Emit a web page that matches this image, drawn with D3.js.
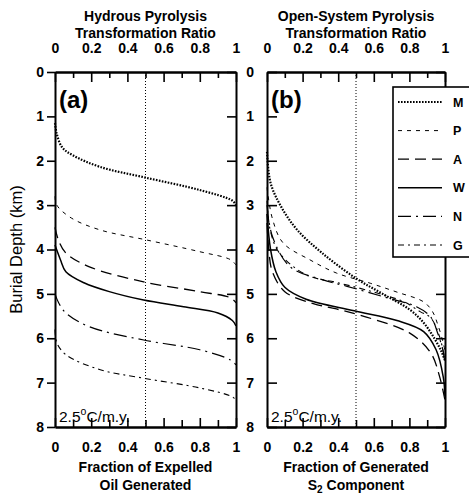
<!DOCTYPE html>
<html>
<head>
<meta charset="utf-8">
<script src="https://cdn.jsdelivr.net/npm/d3@7/dist/d3.min.js"></script>
<style>
  body { margin: 0; background: #fff; }
  svg { display: block; font-family: Arial, "Liberation Sans", sans-serif; }
</style>
</head>
<body>
<svg id="chart" width="469" height="496"></svg>
<script>
// ---- data: [fraction, depth km] ----
const seriesNames = ["M", "P", "A", "W", "N", "G"];
const fractionTicks = [0, 0.2, 0.4, 0.6, 0.8, 1];
const fractionMinor = [0.1, 0.3, 0.5, 0.7, 0.9];
const depthTicks = [0, 1, 2, 3, 4, 5, 6, 7, 8];

// (a) hydrous pyrolysis
const hydrousM = [[0, 1.15], [0.01, 1.4], [0.04, 1.7], [0.1, 1.88], [0.25, 2.14], [0.5, 2.38], [0.8, 2.66], [0.98, 2.9], [1, 3.0]];
const hydrousP = [[0, 2.8], [0.01, 3.0], [0.09, 3.29], [0.25, 3.56], [0.5, 3.78], [0.8, 4.05], [0.97, 4.23], [1, 4.35]];
const hydrousA = [[0, 3.5], [0.02, 3.8], [0.06, 4.08], [0.19, 4.39], [0.49, 4.73], [0.8, 4.95], [0.97, 5.09], [1, 5.2]];
const hydrousW = [[0, 3.9], [0.03, 4.23], [0.06, 4.5], [0.16, 4.75], [0.3, 4.95], [0.49, 5.14], [0.71, 5.29], [0.9, 5.43], [0.98, 5.6], [1, 5.72]];
const hydrousN = [[0, 5.0], [0.02, 5.2], [0.06, 5.43], [0.19, 5.74], [0.49, 6.04], [0.8, 6.26], [0.97, 6.49], [1, 6.6]];
const hydrousG = [[0, 5.8], [0.01, 6.1], [0.06, 6.37], [0.25, 6.71], [0.49, 6.9], [0.8, 7.12], [0.98, 7.32], [1, 7.4]];

// (b) open-system pyrolysis
const openM = [[0, 1.8], [0.02, 2.5], [0.08, 3.04], [0.17, 3.56], [0.31, 4.08], [0.5, 4.65], [0.65, 5.0], [0.8, 5.35], [0.88, 5.65], [0.94, 6.0], [0.98, 6.3], [1, 6.5]];
const openP = [[0, 2.6], [0.03, 3.3], [0.09, 3.85], [0.24, 4.23], [0.39, 4.53], [0.58, 4.76], [0.73, 4.96], [0.88, 5.18], [0.93, 5.4], [0.96, 5.7], [0.99, 6.1], [1, 6.3]];
const openA = [[0, 3.4], [0.01, 4.0], [0.03, 4.5], [0.1, 4.95], [0.26, 5.22], [0.39, 5.34], [0.54, 5.5], [0.8, 5.88], [0.92, 6.33], [0.97, 6.87], [1, 7.4]];
const openW = [[0, 3.2], [0.02, 4.0], [0.05, 4.5], [0.1, 4.85], [0.22, 5.12], [0.49, 5.38], [0.73, 5.6], [0.88, 5.85], [0.95, 6.26], [0.99, 6.87], [1, 7.3]];
const openN = [[0, 3.0], [0.03, 3.7], [0.13, 4.39], [0.31, 4.68], [0.45, 4.83], [0.65, 5.06], [0.84, 5.29], [0.92, 5.52], [0.96, 5.9], [0.99, 6.3], [1, 6.6]];
const openG = [[0, 2.9], [0.02, 3.6], [0.07, 4.08], [0.22, 4.57], [0.41, 4.76], [0.6, 4.96], [0.77, 5.18], [0.86, 5.4], [0.92, 5.54], [0.97, 5.97], [1, 6.5]];

const hydrousSeries = [hydrousM, hydrousP, hydrousA, hydrousW, hydrousN, hydrousG];
const openSeries = [openM, openP, openA, openW, openN, openG];

// line styles per series (M, P, A, W, N, G)
const styles = {
    M: { dash: "1.6,1.4", width: 2.2 },
    P: { dash: "4,5", width: 1 },
    A: { dash: "11,6", width: 1.3 },
    W: { dash: null, width: 1.5 },
    N: { dash: "13,5,2,5", width: 1.2 },
    G: { dash: "6,4,2,4", width: 1.1 }
};

const svg = d3.select("#chart");
const plotTop = 72, plotBottom = 427;

const y = d3.scaleLinear().domain([0, 8]).range([plotTop, plotBottom]);

function fmt(d) { return (d === 0 || d === 1) ? String(d) : d.toFixed(1); }

function drawPanel(x0, x1, series, opts) {
    const x = d3.scaleLinear().domain([0, 1]).range([x0, x1]);
    const g = svg.append("g");

    // dotted line at 0.5
    g.append("line")
        .attr("x1", x(0.5)).attr("x2", x(0.5))
        .attr("y1", plotTop).attr("y2", plotBottom)
        .attr("stroke", "#000")
        .attr("stroke-width", 1)
        .attr("stroke-dasharray", "1,2");

    const line = d3.line()
        .x(function (d) { return x(d[0]); })
        .y(function (d) { return y(d[1]); })
        .curve(d3.curveCatmullRom.alpha(0.5));

    series.forEach(function (s, i) {
        const st = styles[seriesNames[i]];
        g.append("path")
            .attr("d", line(s))
            .attr("fill", "none")
            .attr("stroke", "#000")
            .attr("stroke-width", st.width)
            .attr("stroke-dasharray", st.dash);
    });

    // top axis
    g.append("g").attr("transform", "translate(0," + plotTop + ")")
        .call(d3.axisTop(x).tickValues(fractionTicks).tickFormat(fmt).tickSizeInner(-10).tickSizeOuter(0).tickPadding(19));
    g.append("g").attr("transform", "translate(0," + plotTop + ")")
        .call(d3.axisTop(x).tickValues(fractionMinor).tickFormat("").tickSizeInner(-6).tickSizeOuter(0));

    // bottom axis
    g.append("g").attr("transform", "translate(0," + plotBottom + ")")
        .call(d3.axisBottom(x).tickValues(fractionTicks).tickFormat(fmt).tickSizeInner(-9).tickSizeOuter(0).tickPadding(15));
    g.append("g").attr("transform", "translate(0," + plotBottom + ")")
        .call(d3.axisBottom(x).tickValues(fractionMinor).tickFormat("").tickSizeInner(-7).tickSizeOuter(0));

    // left axis
    const left = g.append("g").attr("transform", "translate(" + x0 + ",0)");
    if (opts.leftOutside) {
        left.call(d3.axisLeft(y).tickValues(depthTicks).tickSizeInner(8).tickSizeOuter(0).tickPadding(3));
    } else {
        left.call(d3.axisLeft(y).tickValues(depthTicks).tickSizeInner(-10).tickSizeOuter(0).tickPadding(13));
    }

    // right axis
    g.append("g").attr("transform", "translate(" + x1 + ",0)")
        .call(d3.axisRight(y).tickValues(depthTicks).tickFormat("").tickSizeInner(-9).tickSizeOuter(0));

    g.selectAll(".domain").attr("stroke-width", 2);
    g.selectAll(".tick line").attr("stroke-width", 1.6);
    g.selectAll(".tick text")
        .attr("font-size", 14)
        .attr("font-weight", "bold")
        .attr("font-family", "Arial, 'Liberation Sans', sans-serif")
        .attr("fill", "#000");

    // panel letter
    g.append("text")
        .attr("x", x0 + 4).attr("y", plotTop + 36)
        .attr("font-size", 24).attr("font-weight", "bold")
        .text(opts.letter);

    // heating rate
    const rate = g.append("text")
        .attr("x", x0 + 4).attr("y", plotBottom - 5)
        .attr("font-size", 15.5);
    rate.append("tspan").text("2.5");
    rate.append("tspan").attr("dy", -7).attr("font-size", 10.5).text("o");
    rate.append("tspan").attr("dy", 7).text("C/m.y.");

    // titles
    const cx = (x0 + x1) / 2;
    g.append("text").attr("x", cx).attr("y", 21)
        .attr("text-anchor", "middle").attr("font-size", 14).attr("font-weight", "bold")
        .text(opts.title);
    g.append("text").attr("x", cx).attr("y", 38)
        .attr("text-anchor", "middle").attr("font-size", 14).attr("font-weight", "bold")
        .text("Transformation Ratio");

    // bottom labels
    g.append("text").attr("x", cx).attr("y", 472)
        .attr("text-anchor", "middle").attr("font-size", 14).attr("font-weight", "bold")
        .text(opts.xlabel1);
    const l2 = g.append("text").attr("x", cx).attr("y", 490)
        .attr("text-anchor", "middle").attr("font-size", 14).attr("font-weight", "bold");
    opts.xlabel2(l2);

    return g;
}

drawPanel(55, 236, hydrousSeries, {
    letter: "(a)",
    leftOutside: true,
    title: "Hydrous Pyrolysis",
    xlabel1: "Fraction of Expelled",
    xlabel2: function (t) { t.text("Oil Generated"); }
});

drawPanel(267, 445, openSeries, {
    letter: "(b)",
    leftOutside: false,
    title: "Open-System Pyrolysis",
    xlabel1: "Fraction of Generated",
    xlabel2: function (t) {
        t.append("tspan").text("S");
        t.append("tspan").attr("dy", 3).attr("font-size", 10).text("2");
        t.append("tspan").attr("dy", -3).text(" Component");
    }
});

// y label
svg.append("text")
    .attr("transform", "translate(22," + y(4.0) + ") rotate(-90)")
    .attr("text-anchor", "middle")
    .attr("font-size", 16.5)
    .text("Burial Depth (km)");

// legend
const legend = svg.append("g");
legend.append("rect")
    .attr("x", 393).attr("y", 87)
    .attr("width", 90).attr("height", 170)
    .attr("fill", "#fff")
    .attr("stroke", "#000")
    .attr("stroke-width", 1.6);

const legendY = d3.scalePoint().domain(seriesNames).range([102, 245]);
seriesNames.forEach(function (name) {
    const st = styles[name];
    legend.append("line")
        .attr("x1", 398).attr("x2", 442)
        .attr("y1", legendY(name)).attr("y2", legendY(name))
        .attr("stroke", "#000")
        .attr("stroke-width", st.width)
        .attr("stroke-dasharray", st.dash);
    legend.append("text")
        .attr("x", 453).attr("y", legendY(name) + 4.5)
        .attr("font-size", 12.5).attr("font-weight", "bold")
        .text(name);
});
</script>
</body>
</html>
